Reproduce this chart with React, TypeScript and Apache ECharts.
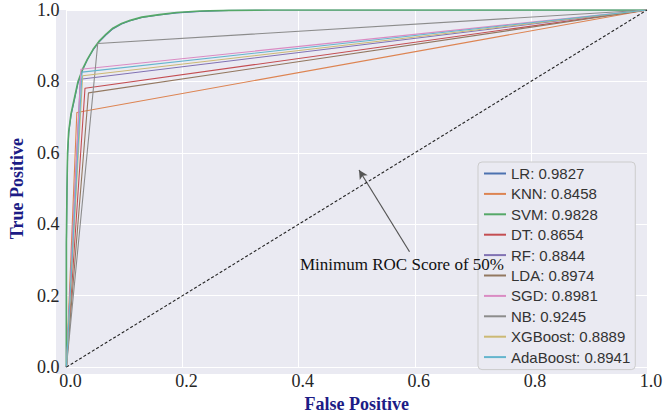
import React, { useEffect, useRef } from "react";
import * as echarts from "echarts";

const models = ["LR", "KNN", "SVM", "DT", "RF", "LDA", "SGD", "NB", "XGBoost", "AdaBoost"];
const aucScores = ["0.9827", "0.8458", "0.9828", "0.8654", "0.8844", "0.8974", "0.8981", "0.9245", "0.8889", "0.8941"];
const colors = ["#4C72B0", "#DD8452", "#55A868", "#C44E52", "#8172B3", "#937860", "#DA8BC3", "#8C8C8C", "#CCB974", "#64B5CD"];

const lrFpr = [0, 0, 0.001, 0.002, 0.004, 0.008, 0.014, 0.02, 0.028, 0.036, 0.046, 0.056, 0.068, 0.08, 0.095, 0.11, 0.13, 0.16, 0.19, 0.23, 0.28, 0.35, 0.5, 0.7, 1.0];
const lrTpr = [0, 0.34, 0.49, 0.59, 0.655, 0.705, 0.75, 0.795, 0.832, 0.86, 0.888, 0.91, 0.93, 0.947, 0.961, 0.97, 0.979, 0.986, 0.992, 0.996, 0.999, 1.0, 1.0, 1.0, 1.0];
const svmFpr = [0, 0, 0.001, 0.002, 0.004, 0.008, 0.014, 0.02, 0.028, 0.036, 0.046, 0.056, 0.068, 0.08, 0.095, 0.11, 0.13, 0.16, 0.19, 0.23, 0.28, 0.35, 0.5, 0.7, 1.0];
const svmTpr = [0, 0.35, 0.5, 0.6, 0.66, 0.71, 0.755, 0.8, 0.835, 0.862, 0.89, 0.912, 0.932, 0.949, 0.962, 0.971, 0.98, 0.987, 0.993, 0.997, 0.999, 1.0, 1.0, 1.0, 1.0];
const knnFpr = [0, 0.018, 1];
const knnTpr = [0, 0.713, 1];
const dtFpr = [0, 0.032, 1];
const dtTpr = [0, 0.781, 1];
const rfFpr = [0, 0.024, 1];
const rfTpr = [0, 0.806, 1];
const ldaFpr = [0, 0.038, 1];
const ldaTpr = [0, 0.768, 1];
const sgdFpr = [0, 0.025, 1];
const sgdTpr = [0, 0.834, 1];
const nbFpr = [0, 0.054, 1];
const nbTpr = [0, 0.906, 1];
const xgbFpr = [0, 0.028, 1];
const xgbTpr = [0, 0.816, 1];
const adaFpr = [0, 0.027, 1];
const adaTpr = [0, 0.826, 1];

const curveFpr = [lrFpr, knnFpr, svmFpr, dtFpr, rfFpr, ldaFpr, sgdFpr, nbFpr, xgbFpr, adaFpr];
const curveTpr = [lrTpr, knnTpr, svmTpr, dtTpr, rfTpr, ldaTpr, sgdTpr, nbTpr, xgbTpr, adaTpr];

const chanceLine = [[0, 0], [1, 1]];
const arrowStart = [0.591, 0.323];
const arrowEnd = [0.504, 0.552];
const annotationText = "Minimum ROC Score of 50%";

export default function App() {
  const ref = useRef<HTMLDivElement>(null);
  useEffect(() => {
    if (!ref.current) return;
    const chart = echarts.init(ref.current, null, { renderer: "svg" });
    const serif = "'Liberation Serif', 'Times New Roman', serif";
    const sans = "'Liberation Sans', Arial, sans-serif";
    const names = models.map((m, i) => `${m}: ${aucScores[i]}`);
    const series: any[] = models.map((m, i) => ({
      name: names[i],
      type: "line",
      data: curveFpr[i].map((x, j) => [x, curveTpr[i][j]]),
      showSymbol: false,
      symbol: "none",
      lineStyle: { color: colors[i], width: m === "SVM" ? 1.6 : 1.1 },
      itemStyle: { color: colors[i] },
      z: 3 + i,
    }));
    series.push({
      name: "chance",
      type: "line",
      data: chanceLine,
      symbol: "none",
      lineStyle: { color: "#222", width: 1.1, type: [3, 2] },
      z: 20,
      markLine: {
        silent: true,
        symbol: ["none", "arrow"],
        symbolSize: [7, 9],
        label: { show: false },
        lineStyle: { color: "#555", width: 1.2, type: "solid" },
        data: [[{ coord: arrowStart }, { coord: arrowEnd }]],
      },
    });
    const axisLabel = {
      fontFamily: serif,
      fontSize: 18,
      color: "#262626",
      formatter: (v: number) => v.toFixed(1),
    };
    const titleStyle = { fontFamily: serif, fontSize: 18, fontWeight: "bold", color: "#1c1c86" };
    chart.setOption({
      animation: false,
      grid: { left: 62, right: 23, top: 10, bottom: 46 },
      graphic: [
        {
          type: "rect",
          z: -10,
          shape: { x: 56, y: 10, width: 591, height: 364 },
          style: { fill: "#EAEAF2" },
        },
        {
          type: "text",
          left: 300,
          top: 256,
          z: 30,
          style: { text: annotationText, font: `17px ${serif}`, fill: "#111" },
        },
      ],
      legend: {
        data: names,
        orient: "vertical",
        left: 478,
        top: 162,
        padding: [3, 5, 4, 6],
        itemWidth: 22,
        itemHeight: 2,
        itemGap: 3.4,
        icon: "rect",
        backgroundColor: "#EAEAF2",
        borderColor: "#cccccc",
        borderWidth: 1,
        borderRadius: 4,
        textStyle: { fontFamily: sans, fontSize: 15, color: "#333", lineHeight: 17 },
      },
      xAxis: {
        type: "value",
        min: 0,
        max: 1,
        interval: 0.2,
        name: "False Positive",
        nameLocation: "middle",
        nameGap: 25,
        nameTextStyle: titleStyle,
        axisLine: { show: false },
        axisTick: { show: false },
        axisLabel: { ...axisLabel, margin: 5, padding: [0, 0, 0, 8] },
        splitLine: { lineStyle: { color: "#ffffff", width: 1 } },
      },
      yAxis: {
        type: "value",
        min: 0,
        max: 1,
        interval: 0.2,
        name: "True Positive",
        nameLocation: "middle",
        nameGap: 30,
        nameTextStyle: titleStyle,
        axisLine: { show: false },
        axisTick: { show: false },
        axisLabel: { ...axisLabel, margin: 7 },
        splitLine: { lineStyle: { color: "#ffffff", width: 1 } },
      },
      series,
    });
    return () => chart.dispose();
  }, []);
  return (
    <div
      ref={ref}
      style={{ position: "fixed", left: 0, top: 0, width: 670, height: 418, background: "#fff" }}
    />
  );
}
